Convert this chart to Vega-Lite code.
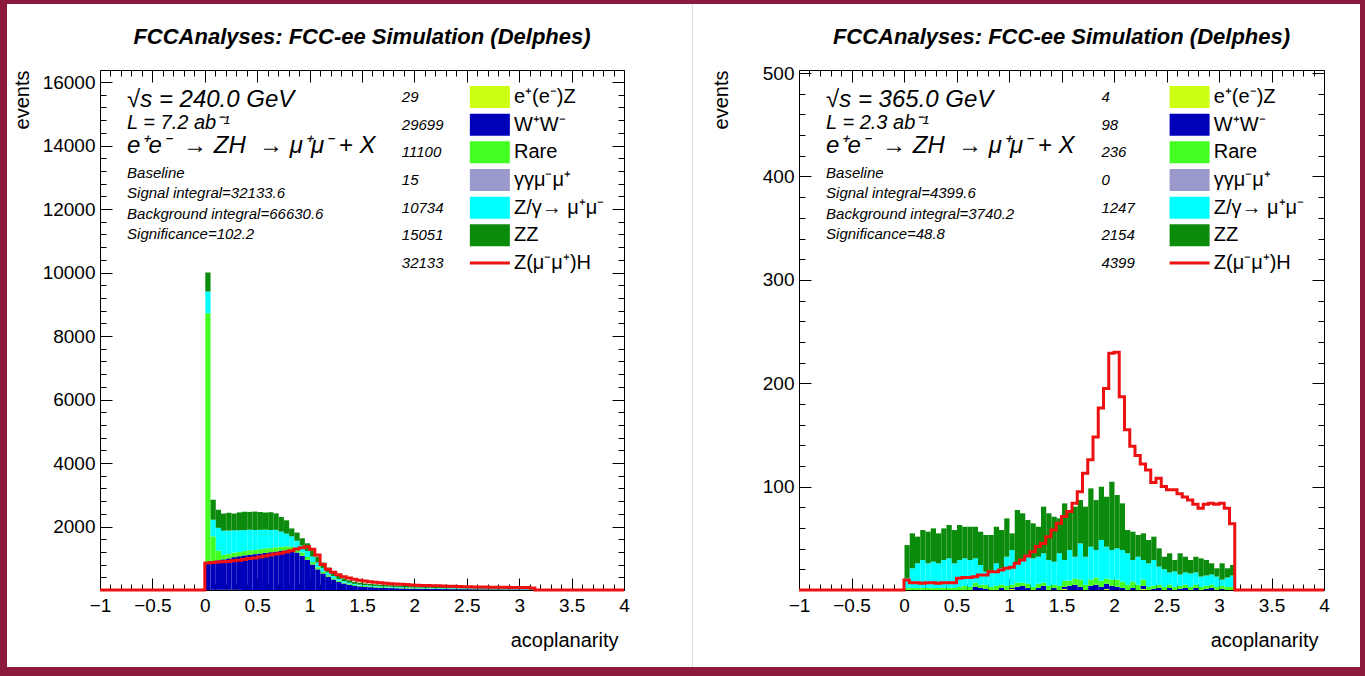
{
"$schema": "https://vega.github.io/schema/vega-lite/v6.json",
"padding": 0,
"background": "#ffffff",
"spacing": 0,
"bounds": "flush",
"align": "each",
"columns": 9,
"config": {
  "view": {"stroke": null},
  "concat": {"spacing": 0},
  "axis": {"grid": false, "labelFont": "Liberation Sans", "titleFont": "Liberation Sans", "labelFontSize": 19, "titleFontSize": 20, "titleFontWeight": "normal", "labelColor": "#000000", "titleColor": "#000000", "domainColor": "#000000", "domainWidth": 1, "tickColor": "#000000", "tickWidth": 1, "ticks": true, "labelOverlap": false, "labelFlush": false},
  "text": {"font": "Liberation Sans", "color": "#000000"},
  "title": {"font": "Liberation Sans", "fontSize": 22, "fontStyle": "italic", "fontWeight": "bold", "color": "#000000", "anchor": "middle", "offset": 21, "frame": "group", "baseline": "alphabetic"}
},
"datasets": {
  "L": [
    {"x":-1,"sig":0},{"x":-0.025,"sig":0},
    {"x":0.025,"s1":0,"s2":850,"s3":7870,"s4":0,"s5":680,"s6":600,"sig":850},
    {"x":0.075,"s1":5,"s2":900,"s3":780,"s4":3,"s5":525,"s6":630,"sig":870},
    {"x":0.125,"s1":5,"s2":930,"s3":300,"s4":3,"s5":720,"s6":570,"sig":880},
    {"x":0.175,"s1":5,"s2":960,"s3":140,"s4":3,"s5":760,"s6":540,"sig":890},
    {"x":0.225,"s1":5,"s2":990,"s3":135,"s4":3,"s5":740,"s6":560,"sig":900},
    {"x":0.275,"s1":5,"s2":1030,"s3":140,"s4":3,"s5":700,"s6":530,"sig":920},
    {"x":0.325,"s1":4,"s2":1060,"s3":130,"s4":0,"s5":690,"s6":560,"sig":940},
    {"x":0.375,"s1":0,"s2":1090,"s3":135,"s4":0,"s5":660,"s6":580,"sig":960},
    {"x":0.425,"s1":0,"s2":1110,"s3":140,"s4":0,"s5":650,"s6":560,"sig":990},
    {"x":0.475,"s1":0,"s2":1130,"s3":130,"s4":0,"s5":630,"s6":580,"sig":1010},
    {"x":0.525,"s1":0,"s2":1150,"s3":135,"s4":0,"s5":610,"s6":560,"sig":1040},
    {"x":0.575,"s1":0,"s2":1170,"s3":140,"s4":0,"s5":590,"s6":540,"sig":1070},
    {"x":0.625,"s1":0,"s2":1190,"s3":130,"s4":0,"s5":570,"s6":560,"sig":1100},
    {"x":0.675,"s1":0,"s2":1210,"s3":135,"s4":0,"s5":550,"s6":520,"sig":1130},
    {"x":0.725,"s1":0,"s2":1230,"s3":130,"s4":0,"s5":480,"s6":460,"sig":1160},
    {"x":0.775,"s1":0,"s2":1250,"s3":125,"s4":0,"s5":400,"s6":420,"sig":1200},
    {"x":0.825,"s1":0,"s2":1240,"s3":120,"s4":0,"s5":330,"s6":250,"sig":1240},
    {"x":0.875,"s1":0,"s2":1180,"s3":110,"s4":0,"s5":260,"s6":260,"sig":1290},
    {"x":0.925,"s1":0,"s2":1080,"s3":100,"s4":0,"s5":220,"s6":230,"sig":1330},
    {"x":0.975,"s1":0,"s2":950,"s3":90,"s4":0,"s5":190,"s6":240,"sig":1360},
    {"x":1.025,"s1":0,"s2":800,"s3":80,"s4":0,"s5":170,"s6":200,"sig":1280},
    {"x":1.075,"s1":0,"s2":650,"s3":65,"s4":0,"s5":150,"s6":180,"sig":1100},
    {"x":1.125,"s1":0,"s2":520,"s3":55,"s4":0,"s5":120,"s6":170,"sig":800},
    {"x":1.175,"s1":0,"s2":420,"s3":45,"s4":0,"s5":90,"s6":150,"sig":650},
    {"x":1.225,"s1":0,"s2":330,"s3":40,"s4":0,"s5":70,"s6":120,"sig":560},
    {"x":1.275,"s1":0,"s2":260,"s3":35,"s4":0,"s5":55,"s6":100,"sig":480},
    {"x":1.325,"s1":0,"s2":205,"s3":30,"s4":0,"s5":45,"s6":85,"sig":420},
    {"x":1.375,"s1":0,"s2":165,"s3":28,"s4":0,"s5":38,"s6":75,"sig":380},
    {"x":1.425,"s1":0,"s2":135,"s3":27,"s4":0,"s5":33,"s6":65,"sig":340},
    {"x":1.475,"s1":0,"s2":115,"s3":26,"s4":0,"s5":30,"s6":58,"sig":310},
    {"x":1.525,"s1":0,"s2":100,"s3":25,"s4":0,"s5":28,"s6":52,"sig":280},
    {"x":1.575,"s1":0,"s2":90,"s3":24,"s4":0,"s5":27,"s6":50,"sig":260},
    {"x":1.625,"s1":0,"s2":80,"s3":23,"s4":0,"s5":26,"s6":48,"sig":245},
    {"x":1.675,"s1":0,"s2":72,"s3":22,"s4":0,"s5":25,"s6":47,"sig":230},
    {"x":1.725,"s1":0,"s2":65,"s3":21,"s4":0,"s5":24,"s6":46,"sig":215},
    {"x":1.775,"s1":0,"s2":60,"s3":20,"s4":0,"s5":23,"s6":45,"sig":200},
    {"x":1.825,"s1":0,"s2":55,"s3":20,"s4":0,"s5":22,"s6":44,"sig":190},
    {"x":1.875,"s1":0,"s2":50,"s3":19,"s4":0,"s5":21,"s6":43,"sig":180},
    {"x":1.925,"s1":0,"s2":46,"s3":18,"s4":0,"s5":20,"s6":42,"sig":170},
    {"x":1.975,"s1":0,"s2":42,"s3":18,"s4":0,"s5":20,"s6":41,"sig":160},
    {"x":2.025,"s1":0,"s2":40,"s3":17,"s4":0,"s5":19,"s6":40,"sig":150},
    {"x":2.075,"s1":0,"s2":38,"s3":16,"s4":0,"s5":18,"s6":39,"sig":145},
    {"x":2.125,"s1":0,"s2":36,"s3":16,"s4":0,"s5":18,"s6":38,"sig":140},
    {"x":2.175,"s1":0,"s2":34,"s3":15,"s4":0,"s5":17,"s6":37,"sig":135},
    {"x":2.225,"s1":0,"s2":32,"s3":15,"s4":0,"s5":16,"s6":36,"sig":130},
    {"x":2.275,"s1":0,"s2":30,"s3":14,"s4":0,"s5":16,"s6":35,"sig":125},
    {"x":2.325,"s1":0,"s2":29,"s3":14,"s4":0,"s5":15,"s6":35,"sig":120},
    {"x":2.375,"s1":0,"s2":28,"s3":13,"s4":0,"s5":15,"s6":34,"sig":115},
    {"x":2.425,"s1":0,"s2":27,"s3":13,"s4":0,"s5":14,"s6":33,"sig":110},
    {"x":2.475,"s1":0,"s2":26,"s3":12,"s4":0,"s5":14,"s6":33,"sig":105},
    {"x":2.525,"s1":0,"s2":25,"s3":12,"s4":0,"s5":13,"s6":32,"sig":100},
    {"x":2.575,"s1":0,"s2":24,"s3":12,"s4":0,"s5":13,"s6":31,"sig":98},
    {"x":2.625,"s1":0,"s2":23,"s3":11,"s4":0,"s5":12,"s6":31,"sig":95},
    {"x":2.675,"s1":0,"s2":22,"s3":11,"s4":0,"s5":12,"s6":30,"sig":92},
    {"x":2.725,"s1":0,"s2":21,"s3":11,"s4":0,"s5":12,"s6":30,"sig":90},
    {"x":2.775,"s1":0,"s2":20,"s3":10,"s4":0,"s5":11,"s6":29,"sig":88},
    {"x":2.825,"s1":0,"s2":20,"s3":10,"s4":0,"s5":11,"s6":29,"sig":86},
    {"x":2.875,"s1":0,"s2":19,"s3":10,"s4":0,"s5":11,"s6":28,"sig":84},
    {"x":2.925,"s1":0,"s2":18,"s3":10,"s4":0,"s5":10,"s6":28,"sig":82},
    {"x":2.975,"s1":0,"s2":18,"s3":9,"s4":0,"s5":10,"s6":27,"sig":80},
    {"x":3.025,"s1":0,"s2":17,"s3":9,"s4":0,"s5":10,"s6":27,"sig":78},
    {"x":3.075,"s1":0,"s2":16,"s3":9,"s4":0,"s5":10,"s6":26,"sig":76},
    {"x":3.125,"s1":0,"s2":15,"s3":9,"s4":0,"s5":10,"s6":26,"sig":60},
    {"x":3.175,"sig":0},{"x":4,"sig":0}
  ],
  "R": [
    {"x":-1,"sig":0},{"x":-0.025,"sig":0},
    {"x":0.025,"s1":0,"s2":0,"s3":2,"s4":0,"s5":9.3,"s6":32.2,"sig":9.7},
    {"x":0.075,"s1":0,"s2":0,"s3":2,"s4":0,"s5":19,"s6":33.8,"sig":7},
    {"x":0.125,"s1":0,"s2":0,"s3":2,"s4":0,"s5":23.8,"s6":25.8,"sig":7},
    {"x":0.175,"s1":0,"s2":0,"s3":2,"s4":0,"s5":27,"s6":29,"sig":6.5},
    {"x":0.225,"s1":0,"s2":0,"s3":2,"s4":0,"s5":23.8,"s6":30.6,"sig":7},
    {"x":0.275,"s1":0,"s2":0,"s3":2,"s4":0,"s5":25.4,"s6":32.2,"sig":7},
    {"x":0.325,"s1":0,"s2":0,"s3":2,"s4":0,"s5":23.8,"s6":29,"sig":6.5},
    {"x":0.375,"s1":0,"s2":0,"s3":2,"s4":0,"s5":27,"s6":30.6,"sig":7},
    {"x":0.425,"s1":0,"s2":0,"s3":2,"s4":0,"s5":28.6,"s6":32.3,"sig":7},
    {"x":0.475,"s1":0,"s2":0,"s3":2,"s4":0,"s5":23.8,"s6":32.2,"sig":7},
    {"x":0.525,"s1":0,"s2":0,"s3":3,"s4":0,"s5":26,"s6":33.9,"sig":11.3},
    {"x":0.575,"s1":0,"s2":0,"s3":4,"s4":0,"s5":26.6,"s6":30.6,"sig":12},
    {"x":0.625,"s1":0,"s2":0,"s3":3,"s4":0,"s5":26,"s6":32.2,"sig":12},
    {"x":0.675,"s1":0,"s2":3,"s3":4,"s4":0,"s5":23.6,"s6":30.6,"sig":12.9},
    {"x":0.725,"s1":0,"s2":2,"s3":3,"s4":0,"s5":19.2,"s6":32.2,"sig":14.5},
    {"x":0.775,"s1":0,"s2":1,"s3":4,"s4":0,"s5":12.7,"s6":35.5,"sig":14.5},
    {"x":0.825,"s1":0,"s2":0,"s3":3,"s4":0,"s5":14.7,"s6":35.5,"sig":17.7},
    {"x":0.875,"s1":0,"s2":0,"s3":4,"s4":0,"s5":21.8,"s6":35.4,"sig":17.7},
    {"x":0.925,"s1":0,"s2":2,"s3":3,"s4":0,"s5":16,"s6":37,"sig":19.3},
    {"x":0.975,"s1":0,"s2":0,"s3":4,"s4":0,"s5":28.2,"s6":37.1,"sig":21},
    {"x":1.025,"s1":1,"s2":1,"s3":3,"s4":0,"s5":33.7,"s6":16.1,"sig":22},
    {"x":1.075,"s1":0,"s2":3,"s3":4,"s4":0,"s5":18.8,"s6":51.6,"sig":25.8},
    {"x":1.125,"s1":0,"s2":4,"s3":3,"s4":0,"s5":22,"s6":45.2,"sig":29},
    {"x":1.175,"s1":0,"s2":2,"s3":4,"s4":0,"s5":27.8,"s6":33.9,"sig":33},
    {"x":1.225,"s1":0,"s2":0,"s3":3,"s4":0,"s5":27.6,"s6":33.9,"sig":37},
    {"x":1.275,"s1":0,"s2":2,"s3":4,"s4":0,"s5":26.2,"s6":29,"sig":42},
    {"x":1.325,"s1":0,"s2":4,"s3":3,"s4":0,"s5":28.5,"s6":45.1,"sig":45},
    {"x":1.375,"s1":0,"s2":0,"s3":4,"s4":0,"s5":25,"s6":45.2,"sig":51.6},
    {"x":1.425,"s1":0,"s2":2,"s3":3,"s4":0,"s5":22.4,"s6":43.5,"sig":58},
    {"x":1.475,"s1":0,"s2":0,"s3":4,"s4":0,"s5":31.5,"s6":33.8,"sig":64.5},
    {"x":1.525,"s1":1,"s2":2,"s3":6,"s4":0,"s5":20,"s6":54.8,"sig":71},
    {"x":1.575,"s1":0,"s2":4,"s3":5,"s4":0,"s5":29.7,"s6":37,"sig":76},
    {"x":1.625,"s1":0,"s2":5,"s3":6,"s4":0,"s5":21.2,"s6":48.4,"sig":84},
    {"x":1.675,"s1":0,"s2":3,"s3":7,"s4":0,"s5":35.1,"s6":41.9,"sig":95},
    {"x":1.725,"s1":0,"s2":0,"s3":5,"s4":0,"s5":27.2,"s6":48.4,"sig":113},
    {"x":1.775,"s1":0,"s2":4,"s3":6,"s4":0,"s5":31.9,"s6":56.4,"sig":126},
    {"x":1.825,"s1":0,"s2":5,"s3":7,"s4":0,"s5":26.7,"s6":48.3,"sig":148},
    {"x":1.875,"s1":0,"s2":3,"s3":6,"s4":0,"s5":39.4,"s6":51.5,"sig":176},
    {"x":1.925,"s1":1,"s2":5,"s3":5,"s4":0,"s5":30.9,"s6":48.3,"sig":195},
    {"x":1.975,"s1":0,"s2":4,"s3":6,"s4":0,"s5":28.7,"s6":66,"sig":229},
    {"x":2.025,"s1":0,"s2":3,"s3":7,"s4":0,"s5":30.3,"s6":51.6,"sig":230},
    {"x":2.075,"s1":0,"s2":2,"s3":6,"s4":0,"s5":30.7,"s6":45.1,"sig":187},
    {"x":2.125,"s1":0,"s2":0,"s3":5,"s4":0,"s5":30.5,"s6":22.5,"sig":155},
    {"x":2.175,"s1":0,"s2":2,"s3":6,"s4":0,"s5":21,"s6":27.4,"sig":139},
    {"x":2.225,"s1":0,"s2":0,"s3":5,"s4":0,"s5":27.2,"s6":21,"sig":130},
    {"x":2.275,"s1":1,"s2":3,"s3":6,"s4":0,"s5":19,"s6":25.8,"sig":122},
    {"x":2.325,"s1":0,"s2":0,"s3":3,"s4":0,"s5":22.8,"s6":22.6,"sig":116},
    {"x":2.375,"s1":0,"s2":1,"s3":3,"s4":0,"s5":25,"s6":22.6,"sig":104},
    {"x":2.425,"s1":0,"s2":2,"s3":3,"s4":0,"s5":17.6,"s6":17.7,"sig":108},
    {"x":2.475,"s1":0,"s2":0,"s3":3,"s4":0,"s5":17,"s6":12.2,"sig":100},
    {"x":2.525,"s1":0,"s2":2,"s3":3,"s4":0,"s5":12,"s6":18.5,"sig":97},
    {"x":2.575,"s1":0,"s2":0,"s3":3,"s4":0,"s5":15,"s6":11,"sig":97},
    {"x":2.625,"s1":0,"s2":1,"s3":3,"s4":0,"s5":11,"s6":20.5,"sig":93},
    {"x":2.675,"s1":0,"s2":2,"s3":3,"s4":0,"s5":12,"s6":15.2,"sig":90},
    {"x":2.725,"s1":0,"s2":0,"s3":3,"s4":0,"s5":13,"s6":13,"sig":87},
    {"x":2.775,"s1":0,"s2":2,"s3":3,"s4":0,"s5":12,"s6":15.2,"sig":83},
    {"x":2.825,"s1":0,"s2":0,"s3":3,"s4":0,"s5":10,"s6":17.6,"sig":79},
    {"x":2.875,"s1":0,"s2":1,"s3":3,"s4":0,"s5":10,"s6":15,"sig":83},
    {"x":2.925,"s1":0,"s2":2,"s3":3,"s4":0,"s5":10,"s6":10.8,"sig":84},
    {"x":2.975,"s1":0,"s2":0,"s3":3,"s4":0,"s5":10,"s6":8,"sig":83},
    {"x":3.025,"s1":0,"s2":1,"s3":3,"s4":0,"s5":6,"s6":15.8,"sig":84},
    {"x":3.075,"s1":0,"s2":0,"s3":3,"s4":0,"s5":9,"s6":9,"sig":79},
    {"x":3.125,"s1":0,"s2":0,"s3":3,"s4":0,"s5":11,"s6":10.2,"sig":64},
    {"x":3.175,"sig":0},{"x":4,"sig":0}
  ],
  "legL": [
    {"line":1,"key":"s1","num":"29","name":"e⁺(e⁻)Z"},
    {"line":2,"key":"s2","num":"29699","name":"W⁺W⁻"},
    {"line":3,"key":"s3","num":"11100","name":"Rare"},
    {"line":4,"key":"s4","num":"15","name":"γγμ⁻μ⁺"},
    {"line":5,"key":"s5","num":"10734","name":"Z/γ→ μ⁺μ⁻"},
    {"line":6,"key":"s6","num":"15051","name":"ZZ"},
    {"line":7,"key":"sig","num":"32133","name":"Z(μ⁻μ⁺)H"}
  ],
  "legR": [
    {"line":1,"key":"s1","num":"4","name":"e⁺(e⁻)Z"},
    {"line":2,"key":"s2","num":"98","name":"W⁺W⁻"},
    {"line":3,"key":"s3","num":"236","name":"Rare"},
    {"line":4,"key":"s4","num":"0","name":"γγμ⁻μ⁺"},
    {"line":5,"key":"s5","num":"1247","name":"Z/γ→ μ⁺μ⁻"},
    {"line":6,"key":"s6","num":"2154","name":"ZZ"},
    {"line":7,"key":"sig","num":"4399","name":"Z(μ⁻μ⁺)H"}
  ],
  "txtL": [
    {"g":"big","line":1,"t":"√s = 240.0 GeV"},
    {"g":"mid","line":2,"t":"L = 7.2 ab⁻¹"},
    {"g":"big","line":3,"t":"e⁺e⁻\u00a0 → ZH\u00a0 → μ⁺μ⁻ + X"},
    {"g":"small","line":1,"t":"Baseline"},
    {"g":"small","line":2,"t":"Signal integral=32133.6"},
    {"g":"small","line":3,"t":"Background integral=66630.6"},
    {"g":"small","line":4,"t":"Significance=102.2"}
  ],
  "txtR": [
    {"g":"big","line":1,"t":"√s = 365.0 GeV"},
    {"g":"mid","line":2,"t":"L = 2.3 ab⁻¹"},
    {"g":"big","line":3,"t":"e⁺e⁻\u00a0 → ZH\u00a0 → μ⁺μ⁻ + X"},
    {"g":"small","line":1,"t":"Baseline"},
    {"g":"small","line":2,"t":"Signal integral=4399.6"},
    {"g":"small","line":3,"t":"Background integral=3740.2"},
    {"g":"small","line":4,"t":"Significance=48.8"}
  ]
},
"concat": [
  {"width":7,"height":4,"data":{"values":[]},"mark":"rect","view":{"fill":"#8c1a3d"}},
  {"width":93,"height":4,"data":{"values":[]},"mark":"rect","view":{"fill":"#8c1a3d"}},
  {"width":524,"height":4,"data":{"values":[]},"mark":"rect","view":{"fill":"#8c1a3d"}},
  {"width":68,"height":4,"data":{"values":[]},"mark":"rect","view":{"fill":"#8c1a3d"}},
  {"width":1,"height":4,"data":{"values":[]},"mark":"rect","view":{"fill":"#8c1a3d"}},
  {"width":106,"height":4,"data":{"values":[]},"mark":"rect","view":{"fill":"#8c1a3d"}},
  {"width":525,"height":4,"data":{"values":[]},"mark":"rect","view":{"fill":"#8c1a3d"}},
  {"width":36,"height":4,"data":{"values":[]},"mark":"rect","view":{"fill":"#8c1a3d"}},
  {"width":5,"height":4,"data":{"values":[]},"mark":"rect","view":{"fill":"#8c1a3d"}},

  {"width":7,"height":66,"data":{"values":[]},"mark":"rect","view":{"fill":"#8c1a3d"}},
  {"width":93,"height":66,"data":{"values":[]},"mark":"rect"},
  {"width":524,"height":66,"data":{"values":[]},"mark":"rect"},
  {"width":68,"height":66,"data":{"values":[]},"mark":"rect"},
  {"width":1,"height":66,"data":{"values":[]},"mark":"rect","view":{"fill":"#dddddd"}},
  {"width":106,"height":66,"data":{"values":[]},"mark":"rect"},
  {"width":525,"height":66,"data":{"values":[]},"mark":"rect"},
  {"width":36,"height":66,"data":{"values":[]},"mark":"rect"},
  {"width":5,"height":66,"data":{"values":[]},"mark":"rect","view":{"fill":"#8c1a3d"}},

  {"width":7,"height":520,"data":{"values":[]},"mark":"rect","view":{"fill":"#8c1a3d"}},
  {"width":93,"height":520,"data":{"values":[]},"mark":"rect"},
  {"width":524,"height":520,
   "title":{"text":"FCCAnalyses: FCC-ee Simulation (Delphes)"},
   "data":{"name":"L"},
   "resolve":{"scale":{"x":"independent","y":"independent"}},
   "layer":[
    {"transform":[{"filter":"datum.x > 0 && datum.x < 3.16"},{"fold":["s1","s2","s3","s4","s5","s6"],"as":["key","n"]}],
     "mark":{"type":"bar","binSpacing":0},
     "encoding":{
      "x":{"field":"x","type":"quantitative","bin":{"extent":[-1,4],"step":0.05},"scale":{"domain":[-1,4],"nice":false,"zero":false},
           "axis":{"orient":"bottom","values":[-1,-0.9,-0.8,-0.7,-0.6,-0.5,-0.4,-0.3,-0.2,-0.1,0,0.1,0.2,0.3,0.4,0.5,0.6,0.7,0.8,0.9,1,1.1,1.2,1.3,1.4,1.5,1.6,1.7,1.8,1.9,2,2.1,2.2,2.3,2.4,2.5,2.6,2.7,2.8,2.9,3,3.1,3.2,3.3,3.4,3.5,3.6,3.7,3.8,3.9,4],
                   "labelExpr":"abs(datum.value*2-round(datum.value*2)) < 0.000001 ? format(datum.value,'~g') : ''",
                   "tickSize":{"expr":"abs(datum.value*2-round(datum.value*2)) < 0.000001 ? -12 : -6"},"labelPadding":18,
                   "title":"acoplanarity","titleAnchor":"end","titleAlign":"right","titleX":518,"titlePadding":9}},
      "y":{"aggregate":"sum","field":"n","type":"quantitative","stack":"zero","scale":{"domain":[0,16378],"nice":false,"zero":false},
           "axis":{"orient":"left","values":[0,400,800,1200,1600,2000,2400,2800,3200,3600,4000,4400,4800,5200,5600,6000,6400,6800,7200,7600,8000,8400,8800,9200,9600,10000,10400,10800,11200,11600,12000,12400,12800,13200,13600,14000,14400,14800,15200,15600,16000],
                   "format":"d","labelExpr":"datum.value % 2000 === 0 && datum.value > 0 ? datum.label : ''",
                   "tickSize":{"expr":"datum.value % 2000 === 0 ? -12 : -6"},"labelPadding":17,
                   "title":"events","titleAnchor":"end","titlePadding":10}},
      "color":{"field":"key","type":"nominal","scale":{"domain":["s1","s2","s3","s4","s5","s6"],"range":["#ccff11","#0000bb","#44ff22","#9999cc","#00ffff","#0b8b0b"]},"legend":null},
      "order":{"field":"key","sort":"ascending"}
     }},
    {"mark":{"type":"line","interpolate":"step","color":"#ee1111","strokeWidth":3},
     "encoding":{
      "x":{"field":"x","type":"quantitative","scale":{"domain":[-1,4],"nice":false,"zero":false},
           "axis":{"orient":"top","values":[-1,-0.9,-0.8,-0.7,-0.6,-0.5,-0.4,-0.3,-0.2,-0.1,0,0.1,0.2,0.3,0.4,0.5,0.6,0.7,0.8,0.9,1,1.1,1.2,1.3,1.4,1.5,1.6,1.7,1.8,1.9,2,2.1,2.2,2.3,2.4,2.5,2.6,2.7,2.8,2.9,3,3.1,3.2,3.3,3.4,3.5,3.6,3.7,3.8,3.9,4],
                   "labels":false,"title":null,"tickSize":{"expr":"abs(datum.value*2-round(datum.value*2)) < 0.000001 ? -12 : -6"}}},
      "y":{"field":"sig","type":"quantitative","scale":{"domain":[0,16378],"nice":false,"zero":false},
           "axis":{"orient":"right","values":[0,400,800,1200,1600,2000,2400,2800,3200,3600,4000,4400,4800,5200,5600,6000,6400,6800,7200,7600,8000,8400,8800,9200,9600,10000,10400,10800,11200,11600,12000,12400,12800,13200,13600,14000,14400,14800,15200,15600,16000],
                   "labels":false,"title":null,"tickSize":{"expr":"datum.value % 2000 === 0 ? -12 : -6"}}}
     }},
    {"data":{"name":"legL"},
     "mark":{"type":"text","align":"left","baseline":"middle","fontStyle":"italic","fontSize":15},
     "encoding":{
      "x":{"datum":1.88,"type":"quantitative","scale":{"domain":[-1,4],"nice":false,"zero":false},"axis":null},
      "y":{"field":"line","type":"quantitative","scale":{"domain":[0.0242,18.82],"reverse":true,"nice":false,"zero":false},"axis":null},
      "text":{"field":"num"}}},
    {"data":{"name":"legL"},"transform":[{"filter":"datum.key !== 'sig'"}],
     "mark":{"type":"point","shape":"M-1,-0.55H1V0.55H-1Z","size":1600,"filled":true,"opacity":1},
     "encoding":{
      "x":{"datum":2.72,"type":"quantitative","scale":{"domain":[-1,4],"nice":false,"zero":false},"axis":null},
      "y":{"field":"line","type":"quantitative","scale":{"domain":[0.0242,18.82],"reverse":true,"nice":false,"zero":false},"axis":null},
      "color":{"field":"key","type":"nominal","legend":null}}},
    {"data":{"name":"legL"},"transform":[{"filter":"datum.key === 'sig'"}],
     "mark":{"type":"point","shape":"M-1,0H1","size":1600,"filled":false,"color":"#ee1111","strokeWidth":3,"opacity":1},
     "encoding":{
      "x":{"datum":2.72,"type":"quantitative","scale":{"domain":[-1,4],"nice":false,"zero":false},"axis":null},
      "y":{"field":"line","type":"quantitative","scale":{"domain":[0.0242,18.82],"reverse":true,"nice":false,"zero":false},"axis":null}}},
    {"data":{"name":"legL"},
     "mark":{"type":"text","align":"left","baseline":"middle","fontSize":20},
     "encoding":{
      "x":{"datum":2.95,"type":"quantitative","scale":{"domain":[-1,4],"nice":false,"zero":false},"axis":null},
      "y":{"field":"line","type":"quantitative","scale":{"domain":[0.0242,18.82],"reverse":true,"nice":false,"zero":false},"axis":null},
      "text":{"field":"name"}}},
    {"data":{"name":"txtL"},"transform":[{"filter":"datum.g === 'big'"}],
     "mark":{"type":"text","align":"left","baseline":"middle","fontStyle":"italic","fontSize":24},
     "encoding":{
      "x":{"datum":-0.742,"type":"quantitative","scale":{"domain":[-1,4],"nice":false,"zero":false},"axis":null},
      "y":{"field":"line","type":"quantitative","scale":{"domain":[-0.304,22.3],"reverse":true,"nice":false,"zero":false},"axis":null},
      "text":{"field":"t"}}},
    {"data":{"name":"txtL"},"transform":[{"filter":"datum.g === 'mid'"}],
     "mark":{"type":"text","align":"left","baseline":"middle","fontStyle":"italic","fontSize":20},
     "encoding":{
      "x":{"datum":-0.742,"type":"quantitative","scale":{"domain":[-1,4],"nice":false,"zero":false},"axis":null},
      "y":{"field":"line","type":"quantitative","scale":{"domain":[-0.304,22.3],"reverse":true,"nice":false,"zero":false},"axis":null},
      "text":{"field":"t"}}},
    {"data":{"name":"txtL"},"transform":[{"filter":"datum.g === 'small'"}],
     "mark":{"type":"text","align":"left","baseline":"middle","fontStyle":"italic","fontSize":15},
     "encoding":{
      "x":{"datum":-0.742,"type":"quantitative","scale":{"domain":[-1,4],"nice":false,"zero":false},"axis":null},
      "y":{"field":"line","type":"quantitative","scale":{"domain":[-4.066,21.51],"reverse":true,"nice":false,"zero":false},"axis":null},
      "text":{"field":"t"}}}
   ]},
  {"width":68,"height":520,"data":{"values":[]},"mark":"rect"},
  {"width":1,"height":520,"data":{"values":[]},"mark":"rect","view":{"fill":"#dddddd"}},
  {"width":106,"height":520,"data":{"values":[]},"mark":"rect"},
  {"width":525,"height":520,
   "title":{"text":"FCCAnalyses: FCC-ee Simulation (Delphes)","offset":15},
   "data":{"name":"R"},
   "resolve":{"scale":{"x":"independent","y":"independent"}},
   "layer":[
    {"transform":[{"filter":"datum.x > 0 && datum.x < 3.16"},{"fold":["s1","s2","s3","s4","s5","s6"],"as":["key","n"]}],
     "mark":{"type":"bar","binSpacing":0},
     "encoding":{
      "x":{"field":"x","type":"quantitative","bin":{"extent":[-1,4],"step":0.05},"scale":{"domain":[-1,4],"nice":false,"zero":false},
           "axis":{"orient":"bottom","values":[-1,-0.9,-0.8,-0.7,-0.6,-0.5,-0.4,-0.3,-0.2,-0.1,0,0.1,0.2,0.3,0.4,0.5,0.6,0.7,0.8,0.9,1,1.1,1.2,1.3,1.4,1.5,1.6,1.7,1.8,1.9,2,2.1,2.2,2.3,2.4,2.5,2.6,2.7,2.8,2.9,3,3.1,3.2,3.3,3.4,3.5,3.6,3.7,3.8,3.9,4],
                   "labelExpr":"abs(datum.value*2-round(datum.value*2)) < 0.000001 ? format(datum.value,'~g') : ''",
                   "tickSize":{"expr":"abs(datum.value*2-round(datum.value*2)) < 0.000001 ? -12 : -6"},"labelPadding":18,
                   "title":"acoplanarity","titleAnchor":"end","titleAlign":"right","titleX":519,"titlePadding":9}},
      "y":{"aggregate":"sum","field":"n","type":"quantitative","stack":"zero","scale":{"domain":[0,503],"nice":false,"zero":false},
           "axis":{"orient":"left","values":[0,20,40,60,80,100,120,140,160,180,200,220,240,260,280,300,320,340,360,380,400,420,440,460,480,500],
                   "format":"d","labelExpr":"datum.value % 100 === 0 && datum.value > 0 ? datum.label : ''",
                   "tickSize":{"expr":"datum.value % 100 === 0 ? -12 : -6"},"labelPadding":17,
                   "title":"events","titleAnchor":"end","titlePadding":31}},
      "color":{"field":"key","type":"nominal","scale":{"domain":["s1","s2","s3","s4","s5","s6"],"range":["#ccff11","#0000bb","#44ff22","#9999cc","#00ffff","#0b8b0b"]},"legend":null},
      "order":{"field":"key","sort":"ascending"}
     }},
    {"mark":{"type":"line","interpolate":"step","color":"#ee1111","strokeWidth":3},
     "encoding":{
      "x":{"field":"x","type":"quantitative","scale":{"domain":[-1,4],"nice":false,"zero":false},
           "axis":{"orient":"top","values":[-1,-0.9,-0.8,-0.7,-0.6,-0.5,-0.4,-0.3,-0.2,-0.1,0,0.1,0.2,0.3,0.4,0.5,0.6,0.7,0.8,0.9,1,1.1,1.2,1.3,1.4,1.5,1.6,1.7,1.8,1.9,2,2.1,2.2,2.3,2.4,2.5,2.6,2.7,2.8,2.9,3,3.1,3.2,3.3,3.4,3.5,3.6,3.7,3.8,3.9,4],
                   "labels":false,"title":null,"tickSize":{"expr":"abs(datum.value*2-round(datum.value*2)) < 0.000001 ? -12 : -6"}}},
      "y":{"field":"sig","type":"quantitative","scale":{"domain":[0,503],"nice":false,"zero":false},
           "axis":{"orient":"right","values":[0,20,40,60,80,100,120,140,160,180,200,220,240,260,280,300,320,340,360,380,400,420,440,460,480,500],
                   "labels":false,"title":null,"tickSize":{"expr":"datum.value % 100 === 0 ? -12 : -6"}}}
     }},
    {"data":{"name":"legR"},
     "mark":{"type":"text","align":"left","baseline":"middle","fontStyle":"italic","fontSize":15},
     "encoding":{
      "x":{"datum":1.88,"type":"quantitative","scale":{"domain":[-1,4],"nice":false,"zero":false},"axis":null},
      "y":{"field":"line","type":"quantitative","scale":{"domain":[0.0242,18.82],"reverse":true,"nice":false,"zero":false},"axis":null},
      "text":{"field":"num"}}},
    {"data":{"name":"legR"},"transform":[{"filter":"datum.key !== 'sig'"}],
     "mark":{"type":"point","shape":"M-1,-0.55H1V0.55H-1Z","size":1600,"filled":true,"opacity":1},
     "encoding":{
      "x":{"datum":2.72,"type":"quantitative","scale":{"domain":[-1,4],"nice":false,"zero":false},"axis":null},
      "y":{"field":"line","type":"quantitative","scale":{"domain":[0.0242,18.82],"reverse":true,"nice":false,"zero":false},"axis":null},
      "color":{"field":"key","type":"nominal","legend":null}}},
    {"data":{"name":"legR"},"transform":[{"filter":"datum.key === 'sig'"}],
     "mark":{"type":"point","shape":"M-1,0H1","size":1600,"filled":false,"color":"#ee1111","strokeWidth":3,"opacity":1},
     "encoding":{
      "x":{"datum":2.72,"type":"quantitative","scale":{"domain":[-1,4],"nice":false,"zero":false},"axis":null},
      "y":{"field":"line","type":"quantitative","scale":{"domain":[0.0242,18.82],"reverse":true,"nice":false,"zero":false},"axis":null}}},
    {"data":{"name":"legR"},
     "mark":{"type":"text","align":"left","baseline":"middle","fontSize":20},
     "encoding":{
      "x":{"datum":2.95,"type":"quantitative","scale":{"domain":[-1,4],"nice":false,"zero":false},"axis":null},
      "y":{"field":"line","type":"quantitative","scale":{"domain":[0.0242,18.82],"reverse":true,"nice":false,"zero":false},"axis":null},
      "text":{"field":"name"}}},
    {"data":{"name":"txtR"},"transform":[{"filter":"datum.g === 'big'"}],
     "mark":{"type":"text","align":"left","baseline":"middle","fontStyle":"italic","fontSize":24},
     "encoding":{
      "x":{"datum":-0.742,"type":"quantitative","scale":{"domain":[-1,4],"nice":false,"zero":false},"axis":null},
      "y":{"field":"line","type":"quantitative","scale":{"domain":[-0.304,22.3],"reverse":true,"nice":false,"zero":false},"axis":null},
      "text":{"field":"t"}}},
    {"data":{"name":"txtR"},"transform":[{"filter":"datum.g === 'mid'"}],
     "mark":{"type":"text","align":"left","baseline":"middle","fontStyle":"italic","fontSize":20},
     "encoding":{
      "x":{"datum":-0.742,"type":"quantitative","scale":{"domain":[-1,4],"nice":false,"zero":false},"axis":null},
      "y":{"field":"line","type":"quantitative","scale":{"domain":[-0.304,22.3],"reverse":true,"nice":false,"zero":false},"axis":null},
      "text":{"field":"t"}}},
    {"data":{"name":"txtR"},"transform":[{"filter":"datum.g === 'small'"}],
     "mark":{"type":"text","align":"left","baseline":"middle","fontStyle":"italic","fontSize":15},
     "encoding":{
      "x":{"datum":-0.742,"type":"quantitative","scale":{"domain":[-1,4],"nice":false,"zero":false},"axis":null},
      "y":{"field":"line","type":"quantitative","scale":{"domain":[-4.066,21.51],"reverse":true,"nice":false,"zero":false},"axis":null},
      "text":{"field":"t"}}}
   ]},
  {"width":36,"height":520,"data":{"values":[]},"mark":"rect"},
  {"width":5,"height":520,"data":{"values":[]},"mark":"rect","view":{"fill":"#8c1a3d"}},

  {"width":7,"height":77,"data":{"values":[]},"mark":"rect","view":{"fill":"#8c1a3d"}},
  {"width":93,"height":77,"data":{"values":[]},"mark":"rect"},
  {"width":524,"height":77,"data":{"values":[]},"mark":"rect"},
  {"width":68,"height":77,"data":{"values":[]},"mark":"rect"},
  {"width":1,"height":77,"data":{"values":[]},"mark":"rect","view":{"fill":"#dddddd"}},
  {"width":106,"height":77,"data":{"values":[]},"mark":"rect"},
  {"width":525,"height":77,"data":{"values":[]},"mark":"rect"},
  {"width":36,"height":77,"data":{"values":[]},"mark":"rect"},
  {"width":5,"height":77,"data":{"values":[]},"mark":"rect","view":{"fill":"#8c1a3d"}},

  {"width":7,"height":9,"data":{"values":[]},"mark":"rect","view":{"fill":"#8c1a3d"}},
  {"width":93,"height":9,"data":{"values":[]},"mark":"rect","view":{"fill":"#8c1a3d"}},
  {"width":524,"height":9,"data":{"values":[]},"mark":"rect","view":{"fill":"#8c1a3d"}},
  {"width":68,"height":9,"data":{"values":[]},"mark":"rect","view":{"fill":"#8c1a3d"}},
  {"width":1,"height":9,"data":{"values":[]},"mark":"rect","view":{"fill":"#8c1a3d"}},
  {"width":106,"height":9,"data":{"values":[]},"mark":"rect","view":{"fill":"#8c1a3d"}},
  {"width":525,"height":9,"data":{"values":[]},"mark":"rect","view":{"fill":"#8c1a3d"}},
  {"width":36,"height":9,"data":{"values":[]},"mark":"rect","view":{"fill":"#8c1a3d"}},
  {"width":5,"height":9,"data":{"values":[]},"mark":"rect","view":{"fill":"#8c1a3d"}}
]
}
